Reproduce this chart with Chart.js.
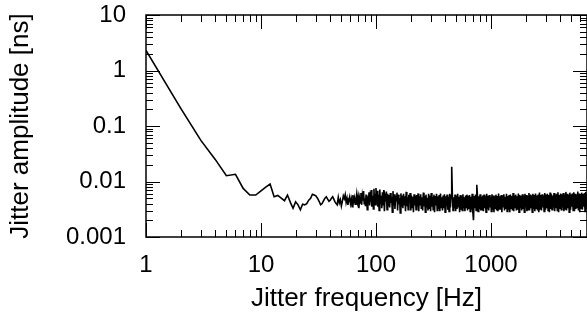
<!DOCTYPE html>
<html>
<head>
<meta charset="utf-8">
<script src="https://cdn.jsdelivr.net/npm/chart.js@4"></script>
<style>
  html, body { margin: 0; padding: 0; background: #fff; }
  #chart { display: block; }
</style>
</head>
<body>
<canvas id="chart" width="587" height="322"></canvas>
<script>
// tick labels
const xTicks = [1, 10, 100, 1000];
const xTickLabels = ['1', '10', '100', '1000'];
const yTicks = [0.001, 0.01, 0.1, 1, 10];
const yTickLabels = ['0.001', '0.01', '0.1', '1', '10'];

// 1 Hz bins from 1 to 100 Hz, amplitude in units of 1e-4 ns
const lowAmp = [
  23000, 2100, 550, 250, 127, 135, 75, 57, 57, 68,
  79, 90, 53, 56, 50, 45, 57, 42, 33, 43,
  38, 31, 39, 38, 40, 46, 50, 59, 57, 55,
  50, 44, 38, 40, 45, 50, 53, 48, 44, 46,
  50, 53, 48, 43, 40, 38, 52, 41, 47, 36,
  44, 55, 49, 58, 42, 50, 38, 46, 53, 40,
  48, 35, 57, 44, 51, 39, 47, 60, 43, 52,
  33, 49, 41, 62, 38, 55, 45, 67, 40, 50,
  36, 58, 46, 31, 54, 42, 64, 37, 52, 44,
  70, 35, 56, 48, 32, 74, 45, 60, 38, 76
];

// dense noise band from 101 Hz to the right edge, units of 1e-4 ns
const bandStart = 101;
const bandEnd = 6840;
const bandAmp = [
  42, 68, 35, 58, 30, 72, 40, 55, 33, 64, 38, 70, 29, 52, 44, 66, 31, 60, 36, 57,
  34, 62, 41, 53, 28, 67, 37, 59, 32, 55, 45, 63, 30, 58, 39, 50, 27, 61, 35, 56,
  33, 60, 38, 54, 29, 65, 36, 52, 31, 58, 42, 62, 30, 56, 34, 53, 28, 59, 37, 55,
  31, 57, 35, 61, 29, 54, 38, 59, 32, 52, 30, 63, 36, 55, 28, 58, 34, 51, 30, 60,
  33, 56, 29, 62, 35, 53, 31, 58, 28, 55, 37, 60, 30, 54, 32, 57, 29, 61, 34, 52,
  30, 56, 33, 59, 28, 54, 36, 58, 31, 53, 29, 60, 34, 55, 185, 57, 30, 52, 33, 58,
  29, 55, 32, 60, 35, 53, 28, 57, 31, 54, 30, 59, 33, 52, 29, 56, 34, 58, 30, 55,
  32, 57, 29, 53, 31, 60, 28, 20, 55, 33, 58, 30, 87, 56, 29, 54, 32, 59, 30, 53,
  31, 56, 29, 58, 33, 54, 28, 60, 32, 55, 30, 57, 34, 53, 29, 59, 31, 56, 28, 54,
  33, 58, 30, 55, 29, 61, 32, 54, 31, 57, 28, 56, 35, 59, 30, 53, 32, 60, 29, 55,
  31, 57, 28, 58, 33, 55, 30, 62, 29, 56, 34, 58, 30, 54, 31, 61, 28, 57, 33, 55,
  30, 59, 32, 56, 28, 60, 34, 57, 29, 55, 31, 62, 30, 58, 33, 56, 28, 60, 32, 57,
  29, 61, 33, 56, 30, 58, 28, 63, 32, 57, 30, 59, 34, 56, 29, 62, 31, 58, 33, 60,
  30, 57, 28, 63, 32, 59, 31, 56, 34, 62, 29, 58, 33, 60, 30, 64, 28, 57, 32, 61,
  31, 59, 34, 62, 29, 58, 32, 65, 30, 60, 33, 57, 28, 63, 31, 59, 35, 61, 30, 64,
  29, 60, 32, 58, 34, 66, 30, 61, 28, 59, 33, 63, 31, 58, 35, 62, 29, 65, 32, 60
];

const points = [];
lowAmp.forEach((a, i) => points.push({ x: i + 1, y: a * 1e-4 }));
const ratio = bandEnd / bandStart;
bandAmp.forEach((a, i) => {
  points.push({ x: bandStart * Math.pow(ratio, i / (bandAmp.length - 1)), y: a * 1e-4 });
});

// frame and inward tick marks on all four sides
const frameTicks = {
  id: 'frameTicks',
  afterDatasetsDraw(chart) {
    const { ctx, chartArea: a, scales: { x, y } } = chart;
    ctx.save();
    ctx.strokeStyle = '#000';
    ctx.lineWidth = 1;
    ctx.beginPath();
    for (let e = 0; e <= 4; e++) {
      for (let m = 1; m < 10; m++) {
        const v = m * Math.pow(10, e);
        if (v > x.max) break;
        const px = Math.round(x.getPixelForValue(v)) + 0.5;
        const len = m === 1 ? 14 : 7;
        ctx.moveTo(px, a.bottom); ctx.lineTo(px, a.bottom - len);
        ctx.moveTo(px, a.top); ctx.lineTo(px, a.top + len);
      }
    }
    for (let e = -3; e <= 1; e++) {
      for (let m = 1; m < 10; m++) {
        const v = m * Math.pow(10, e);
        if (v > y.max) break;
        const py = Math.round(y.getPixelForValue(v)) + 0.5;
        const len = m === 1 ? 14 : 7;
        ctx.moveTo(a.left, py); ctx.lineTo(a.left + len, py);
        ctx.moveTo(a.right, py); ctx.lineTo(a.right - len, py);
      }
    }
    ctx.stroke();
    ctx.lineWidth = 1.5;
    ctx.strokeRect(a.left, a.top, a.width, a.height);
    ctx.restore();
  }
};

const tickFont = { family: '"Liberation Sans", Arial, sans-serif', size: 24 };
const titleFont = { family: '"Liberation Sans", Arial, sans-serif', size: 26 };

new Chart(document.getElementById('chart'), {
  type: 'line',
  data: {
    datasets: [{
      data: points,
      borderColor: '#000',
      borderWidth: 1.6,
      pointRadius: 0,
      tension: 0,
      fill: false
    }]
  },
  options: {
    responsive: false,
    animation: false,
    devicePixelRatio: 1,
    layout: { padding: { top: 15, right: 0, left: 0, bottom: 0 } },
    plugins: { legend: { display: false }, tooltip: { enabled: false } },
    scales: {
      x: {
        type: 'logarithmic',
        min: 1,
        max: bandEnd,
        grid: { display: false, drawTicks: false },
        border: { display: false },
        afterBuildTicks: s => { s.ticks = xTicks.map(v => ({ value: v })); },
        afterFit: s => {
          s.height = 85;
          s.paddingLeft = 0;
          s.paddingRight = 0;
        },
        ticks: {
          autoSkip: false,
          maxRotation: 0,
          padding: 14,
          color: '#000',
          font: tickFont,
          callback: v => xTickLabels[xTicks.indexOf(v)]
        },
        title: {
          display: true,
          text: 'Jitter frequency [Hz]',
          color: '#000',
          font: titleFont,
          padding: { top: 0, bottom: 8 }
        }
      },
      y: {
        type: 'logarithmic',
        min: 0.001,
        max: 10,
        grid: { display: false, drawTicks: false },
        border: { display: false },
        afterBuildTicks: s => { s.ticks = yTicks.map(v => ({ value: v })); },
        afterFit: s => {
          s.width = 146;
          s.paddingTop = 0;
          s.paddingBottom = 0;
        },
        ticks: {
          autoSkip: false,
          padding: 20,
          color: '#000',
          font: tickFont,
          callback: v => yTickLabels[yTicks.indexOf(v)]
        },
        title: {
          display: true,
          text: 'Jitter amplitude [ns]',
          color: '#000',
          font: titleFont,
          padding: { top: 5, bottom: 0 }
        }
      }
    }
  },
  plugins: [frameTicks]
});
</script>
</body>
</html>
